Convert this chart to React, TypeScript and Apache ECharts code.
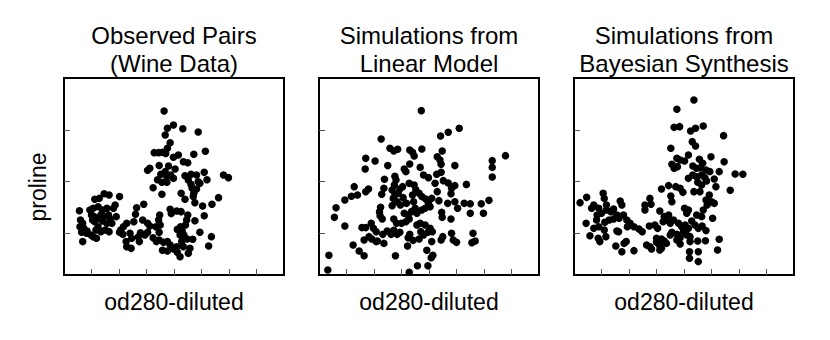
import React, { useEffect, useRef } from "react";
import * as echarts from "echarts";

const panelTitles = [
  ["Observed Pairs", "(Wine Data)"],
  ["Simulations from", "Linear Model"],
  ["Simulations from", "Bayesian Synthesis"],
];
const xName = "od280-diluted";
const yName = "proline";
const xTicks = [1.5, 2, 2.5, 3, 3.5, 4, 4.5];
const yTicks = [500, 1000, 1500];

const obsX = [2.82,2.99,2.88,3.16,3.44,2.84,2.93,2.88,2.64,2.72,2.79,2.85,3.57,3.36,2.99,3.08,3.17,3.25,2.52,2.56,2.73,2.90,3.02,2.84,2.76,2.70,2.87,2.94,2.99,3.20,3.31,3.41,3.55,3.60,3.90,3.99,2.87,2.78,3.26,2.62,2.78,3.13,3.31,3.47,3.41,3.36,3.20,3.35,3.38,3.52,3.69,3.81,3.55,3.33,3.44,
2.93,2.95,3.05,3.13,3.25,3.23,3.38,3.21,3.12,3.06,3.15,3.11,3.18,3.24,3.34,3.47,3.68,3.63,2.74,2.72,2.75,2.67,2.73,2.45,2.32,2.30,2.27,2.43,2.52,2.56,2.14,2.08,2.03,2.01,2.07,2.20,2.23,2.39,2.35,2.47,2.52,2.37,2.13,2.14,2.22,2.62,2.73,2.68,2.81,2.88,2.93,2.79,2.88,2.99,3.06,3.11,3.05,3.17,3.29,3.26,3.14,
1.56,1.64,1.73,1.82,2.01,1.28,1.47,1.53,1.62,1.70,1.78,1.90,1.93,1.50,1.55,1.59,1.67,1.72,1.81,1.84,1.95,1.30,1.34,1.52,1.56,1.70,1.78,1.87,1.29,1.36,1.42,1.49,1.58,1.62,1.67,1.75,1.82,1.32,1.41,1.59,1.34,1.53];
const obsY = [1682,1547,1515,1511,1479,1450,1376,1322,1280,1280,1283,1273,1293,1264,1235,1257,1193,1183,1110,1129,1155,1151,1122,1097,1071,1019,1048,1065,1032,1058,1071,1065,1090,1019,1065,1039,994,994,1016,942,878,888,974,984,929,888,830,856,798,766,782,846,672,936,1000,
733,692,717,711,679,630,624,582,566,540,524,486,486,447,444,512,470,380,679,630,582,566,512,782,749,685,614,630,598,573,598,566,534,512,492,502,454,508,467,486,512,422,422,373,357,460,438,422,415,422,389,338,331,351,319,277,373,373,357,309,422,
830,839,884,872,856,720,727,743,759,727,743,743,775,679,663,640,679,663,679,640,663,630,598,630,614,621,598,598,566,550,524,486,534,566,518,534,518,512,502,454,422,470];

const linX = [2.86,3.55,3.35,3.21,2.13,2.29,2.36,2.43,2.65,2.70,2.87,2.73,3.24,3.15,3.20,3.22,4.39,4.15,4.15,4.15,
1.85,2.02,1.84,2.25,2.55,2.58,2.65,2.84,3.47,3.14,
3.22,2.90,2.99,2.38,2.40,2.19,1.64,1.90,1.85,1.70,
1.59,1.47,1.31,1.28,1.47,2.18,2.14,2.33,2.37,2.47,
2.52,2.64,2.73,2.76,2.82,2.87,2.38,2.44,2.35,2.42,
2.53,2.70,3.11,3.26,3.35,3.41,3.47,3.68,3.40,3.15,
2.94,2.99,3.05,3.18,3.34,3.47,3.64,3.75,3.95,4.09,
3.52,3.75,3.99,2.12,2.10,2.11,2.15,2.33,2.48,2.59,
2.72,2.75,2.68,2.62,2.55,2.78,2.87,2.93,3.02,3.23,
3.24,3.40,1.95,1.99,2.04,1.78,1.85,2.36,2.41,2.50,
2.58,2.64,2.78,2.84,2.93,3.02,3.06,2.85,2.90,2.98,
3.41,3.80,2.16,2.24,2.36,2.42,2.31,2.47,2.65,2.71,
2.62,1.91,1.82,1.96,2.04,2.06,2.18,1.62,1.73,1.82,
2.39,2.61,2.82,3.05,3.22,3.25,3.44,3.50,3.78,3.84,
2.96,3.04,3.07,2.98,2.79,2.64,1.18,1.16];
const linY = [1685,1515,1476,1441,1412,1322,1296,1312,1306,1283,1315,1248,1296,1241,1209,1167,1251,1203,1138,1045,
1225,1200,1122,1155,1122,1097,1171,1138,1155,1071,
1090,1065,1039,1052,1016,1023,952,929,904,872,
859,823,749,656,573,936,878,920,968,929,
952,984,968,923,888,856,872,888,839,807,
846,872,984,1010,987,936,962,974,884,904,
833,791,839,817,791,807,791,788,788,820,
743,695,695,753,711,672,640,769,775,791,
807,743,711,679,695,695,727,743,759,704,
656,640,598,550,518,557,557,640,598,598,
614,640,582,598,582,550,518,518,486,512,
502,502,492,524,531,492,492,512,492,434,
460,470,438,447,422,428,405,389,331,286,
286,380,447,422,438,470,438,415,412,428,
338,267,290,190,190,126,290,148];

const bayX = [3.18,2.87,2.82,2.92,3.12,3.21,3.35,3.72,3.15,3.21,
2.76,3.08,2.87,2.93,2.78,2.82,2.88,3.01,3.28,3.49,
3.73,3.34,3.16,3.23,3.30,3.40,3.47,3.64,3.93,4.07,
3.08,3.16,3.23,3.32,3.38,3.25,3.32,3.41,3.55,3.58,
3.84,3.18,3.29,3.46,3.40,2.59,2.72,2.85,2.93,2.98,
2.76,2.78,2.38,2.29,2.29,2.40,2.56,2.64,2.72,3.01,
3.08,3.05,3.23,3.32,3.35,3.42,3.50,3.55,3.52,1.11,
1.23,1.36,1.53,1.55,1.32,1.45,1.50,1.59,1.67,1.59,
1.72,1.84,1.87,1.78,1.82,1.90,1.96,2.02,2.09,2.18,
1.97,1.22,1.41,1.45,1.42,1.56,1.64,1.72,1.36,1.55,
1.29,1.44,1.47,1.58,1.78,1.81,1.76,1.87,1.91,1.95,
2.09,2.24,2.37,2.47,2.52,2.62,2.68,2.75,2.81,2.90,
2.96,3.02,3.08,3.14,3.20,3.26,3.33,3.40,2.78,2.87,
2.93,2.87,2.99,3.05,3.11,2.38,2.41,2.50,2.55,2.59,
2.64,2.68,2.59,2.50,2.56,2.93,3.11,3.25,3.39,3.64,
3.61,3.10,3.10,3.26,3.26,2.75,2.32];
const bayY = [1788,1698,1524,1531,1489,1515,1537,1444,1386,1344,
1322,1257,1225,1209,1167,1129,1145,1200,1216,1241,
1193,1177,1151,1129,1135,1113,1097,1097,1074,1071,
1032,1065,1048,1065,1039,994,968,1007,1026,952,
917,904,904,872,823,929,962,952,936,897,
862,807,839,775,727,782,717,663,679,743,
727,695,679,663,727,775,807,791,647,798,
849,775,888,839,743,743,695,727,711,775,
737,814,775,679,647,679,630,598,566,544,
566,598,630,566,679,608,630,640,550,534,
479,454,422,470,524,518,380,325,405,422,
335,518,573,582,550,614,630,598,630,598,
566,582,550,621,582,550,573,528,512,492,
460,438,518,486,470,373,351,415,389,357,
428,405,447,454,341,399,422,428,431,444,
341,325,261,325,229,486,389];

const seriesX = [obsX, linX, bayX];
const seriesY = [obsY, linY, bayY];

const FONT = "'Liberation Sans', Arial, Helvetica, sans-serif";
const PANEL_LEFT = [64, 319, 574];
const PANEL_TOP = 78;
const PANEL_W = 220;
const PANEL_H = 197;

export default function App() {
  const ref = useRef<HTMLDivElement>(null);
  useEffect(() => {
    if (!ref.current) return;
    const chart = echarts.init(ref.current, null, { renderer: "svg" });
    const grids = PANEL_LEFT.map((l) => ({
      left: l,
      top: PANEL_TOP,
      width: PANEL_W,
      height: PANEL_H,
      show: true,
      borderColor: "#000",
      borderWidth: 2,
      backgroundColor: "transparent",
      containLabel: false,
    }));
    const xAxes = PANEL_LEFT.map((_, i) => ({
      type: "value",
      gridIndex: i,
      min: 1,
      max: 5,
      interval: 0.5,
      axisLine: { show: false },
      splitLine: { show: false },
      axisLabel: { show: false },
      axisTick: {
        show: true,
        inside: true,
        length: 6,
        customValues: xTicks,
        lineStyle: { color: "#555", width: 1 },
      },
    }));
    const yAxes = PANEL_LEFT.map((_, i) => ({
      type: "value",
      gridIndex: i,
      min: 100,
      max: 2000,
      axisLine: { show: false },
      splitLine: { show: false },
      axisLabel: { show: false },
      axisTick: {
        show: true,
        inside: true,
        length: 6,
        customValues: yTicks,
        lineStyle: { color: "#555", width: 1 },
      },
    }));
    const series = PANEL_LEFT.map((_, i) => ({
      type: "scatter",
      xAxisIndex: i,
      yAxisIndex: i,
      symbol: "circle",
      symbolSize: 7.5,
      itemStyle: { color: "#000", opacity: 1 },
      data: seriesX[i].map((x, k) => [x, seriesY[i][k]]),
    }));
    const texts: any[] = [];
    panelTitles.forEach((lines, i) => {
      const cx = PANEL_LEFT[i] + PANEL_W / 2;
      lines.forEach((t, j) => {
        texts.push({
          type: "text",
          x: cx,
          y: 35 + j * 28,
          style: {
            text: t,
            font: `24px ${FONT}`,
            fill: "#000",
            textAlign: "center",
            textVerticalAlign: "middle",
          },
        });
      });
      texts.push({
        type: "text",
        x: cx,
        y: 302,
        style: {
          text: xName,
          font: `23px ${FONT}`,
          fill: "#000",
          textAlign: "center",
          textVerticalAlign: "middle",
        },
      });
    });
    texts.push({
      type: "text",
      x: 38,
      y: 187,
      rotation: Math.PI / 2,
      style: {
        text: yName,
        font: `23px ${FONT}`,
        fill: "#000",
        textAlign: "center",
        textVerticalAlign: "middle",
      },
    });
    chart.setOption({
      animation: false,
      grid: grids,
      xAxis: xAxes,
      yAxis: yAxes,
      series,
      graphic: texts,
    });
    return () => chart.dispose();
  }, []);
  return (
    <div
      ref={ref}
      style={{ position: "fixed", left: 0, top: 0, width: 830, height: 340, background: "#fff" }}
    />
  );
}
